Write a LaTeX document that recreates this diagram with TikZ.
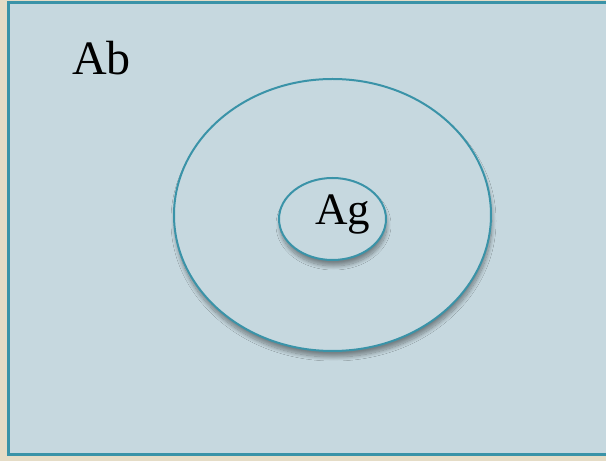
\documentclass[tikz,border=0pt]{standalone}
\usepackage{fontspec}
\setmainfont{Liberation Serif}
\definecolor{abPaper}{RGB}{229, 220, 198}
\definecolor{abFill}{RGB}{198, 216, 223}
\definecolor{abTeal}{RGB}{58, 147, 168}
\usetikzlibrary{shapes.geometric, shadows.blur}

\begin{document}
\begin{tikzpicture}[x=1pt, y=1pt,
    ring/.style={ellipse, draw=abTeal, line width=2pt, fill=abFill,
      blur shadow={shadow xshift=1pt, shadow yshift=-6pt, shadow blur radius=4pt,
        shadow blur steps=12, shadow opacity=40}}]
  \useasboundingbox[fill=abPaper] (0,0) rectangle (606,461);
  % outer box
  \node[draw=abTeal, line width=3pt, fill=abFill, anchor=south west,
        minimum width=610pt, minimum height=452pt, inner sep=0pt] (box) at (7,5) {};
  \node[font=\fontsize{48}{50}\selectfont, anchor=base west, inner sep=0pt] (ab) at (72,386) {Ab};
  % nested rings
  \node[ring, minimum width=317pt, minimum height=272pt] (outer) at (332.5,246) {};
  \node[ring, minimum width=107pt, minimum height=82pt] (inner) at (332.5,242) {};
  \node[font=\fontsize{45}{47}\selectfont, anchor=base, inner sep=0pt] (ag) at ([xshift=10.5pt, yshift=-6pt]inner.center) {Ag};
\end{tikzpicture}
\end{document}
